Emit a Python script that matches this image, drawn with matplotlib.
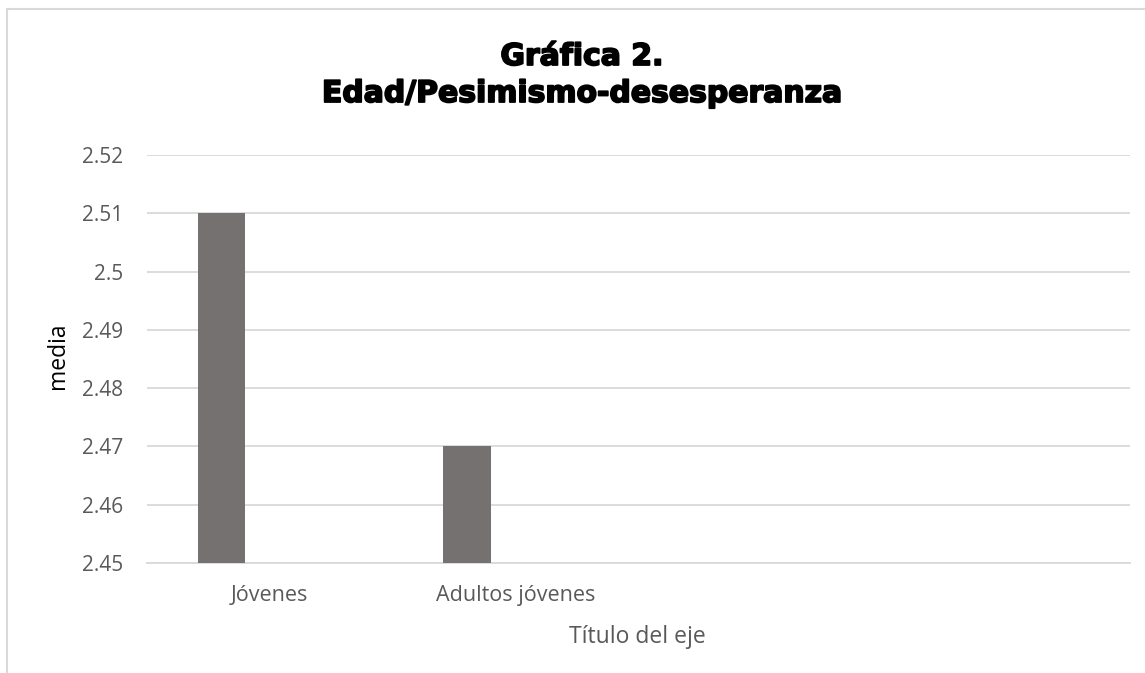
import matplotlib.pyplot as plt
import matplotlib.patheffects as pe
from matplotlib.patches import Rectangle
import numpy as np

categories = ["Jóvenes", "Adultos jóvenes", "", ""]
media = [2.51, 2.47]
y_ticks = [2.45, 2.46, 2.47, 2.48, 2.49, 2.5, 2.51, 2.52]
y_tick_labels = ["2.45", "2.46", "2.47", "2.48", "2.49", "2.5", "2.51", "2.52"]

W, H = 1145, 673
fig = plt.figure(figsize=(W / 100, H / 100), dpi=100)
fig.patch.set_facecolor("white")

# chart area border, cut off on the right and bottom like the source
fig.patches.append(Rectangle((7 / W, -0.1), 1.2, 1 - 9.5 / H + 0.1,
                             transform=fig.transFigure, fill=False,
                             edgecolor="#d9d9d9", linewidth=1.5))

left, right, top, bottom = 146.5, 1130, 155, 563
ax = fig.add_axes([left / W, 1 - bottom / H, (right - left) / W, (bottom - top) / H])

x = np.arange(len(categories))
ax.bar(x[:len(media)] - 0.195, media, width=0.195, color="#767171", zorder=3)

ax.set_xlim(-0.5, len(categories) - 0.5)
ax.set_ylim(2.45, 2.52)
ax.set_yticks(y_ticks)
ax.set_yticklabels(y_tick_labels)
ax.set_xticks(x)
ax.set_xticklabels(categories)

ax.grid(axis="y", color="#d9d9d9", linewidth=1.3, zorder=0)
for s in ["top", "right", "left"]:
    ax.spines[s].set_visible(False)
ax.spines["bottom"].set_color("#d9d9d9")
ax.spines["bottom"].set_linewidth(1.3)
ax.tick_params(axis="both", length=0, labelcolor="#595959")
ax.tick_params(axis="y", pad=17, labelsize=15)
ax.tick_params(axis="x", pad=16, labelsize=15.5)
for lbl in ax.get_xticklabels() + ax.get_yticklabels():
    lbl.set_fontfamily("Open Sans")

ax.set_ylabel("media", fontsize=16.5, color="black", fontfamily="Open Sans")
ax.yaxis.label.set_va("center")
ax.yaxis.set_label_coords((58 - left) / (right - left), (bottom - 356) / (bottom - top))

ax.set_xlabel("Título del eje", fontsize=16.5, color="#595959", fontfamily="Open Sans")
ax.xaxis.label.set_va("center")
ax.xaxis.set_label_coords((637.5 - left) / (right - left), (bottom - 637) / (bottom - top))

# two-line heavy title (stroke makes it closer to the black weight of the original)
heavy = [pe.withStroke(linewidth=1.3, foreground="black")]
fig.text(582 / W, 1 - 65 / H, "Gráfica 2.", ha="center", va="baseline",
         fontsize=21.5, fontweight="bold", fontfamily="DejaVu Sans", path_effects=heavy)
fig.text(582 / W, 1 - 102 / H, "Edad/Pesimismo-desesperanza", ha="center", va="baseline",
         fontsize=21.5, fontweight="bold", fontfamily="DejaVu Sans", path_effects=heavy)

fig.savefig("out.png", dpi=100)
